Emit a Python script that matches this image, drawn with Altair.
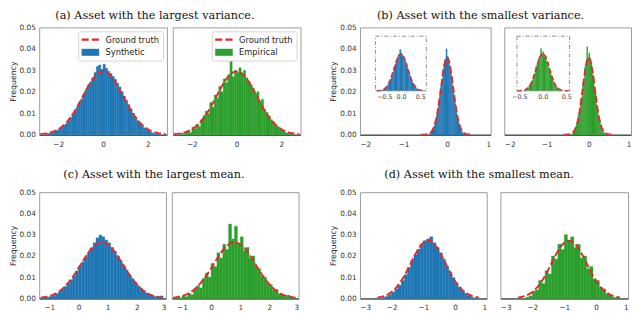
import altair as alt
import pandas as pd

RED = "#e02a2e"
BLUE = "#1f77b4"
GREEN = "#2ca02c"

# ---------------- data ----------------
# (a) largest variance: bins of width 0.1 starting at -2.5
a_start, a_width = -2.5, 0.1
a_synth = [0.0005, 0.0008, 0.0010, 0.0014, 0.0020, 0.0026, 0.0033, 0.0042, 0.0050, 0.0062,
           0.0078, 0.0096, 0.0108, 0.0128, 0.0150, 0.0166, 0.0190, 0.0212, 0.0230, 0.0246,
           0.0265, 0.0290, 0.0318, 0.0325, 0.0305, 0.0328, 0.0310, 0.0296, 0.0285, 0.0272,
           0.0258, 0.0240, 0.0222, 0.0200, 0.0180, 0.0160, 0.0140, 0.0120, 0.0100, 0.0082,
           0.0066, 0.0052, 0.0042, 0.0032, 0.0024, 0.0017, 0.0011, 0.0007, 0.0004, 0.0002]
a_emp = [0.0008, 0.0004, 0.0012, 0.0018, 0.0010, 0.0035, 0.0028, 0.0050, 0.0038, 0.0070,
         0.0090, 0.0110, 0.0098, 0.0150, 0.0128, 0.0185, 0.0170, 0.0225, 0.0200, 0.0260,
         0.0242, 0.0280, 0.0350, 0.0270, 0.0300, 0.0290, 0.0312, 0.0285, 0.0300, 0.0265,
         0.0250, 0.0232, 0.0215, 0.0190, 0.0200, 0.0155, 0.0165, 0.0118, 0.0105, 0.0088,
         0.0070, 0.0060, 0.0042, 0.0038, 0.0022, 0.0018, 0.0012, 0.0008, 0.0003, 0.0002]
a_curve_x = [-2.8, -2.6, -2.4, -2.2, -2.0, -1.8, -1.6, -1.4, -1.2, -1.0, -0.8, -0.6, -0.4, -0.2, 0.0,
             0.2, 0.4, 0.6, 0.8, 1.0, 1.2, 1.4, 1.6, 1.8, 2.0, 2.2, 2.4, 2.6, 2.8]
a_curve_y = [0.0002, 0.0005, 0.0008, 0.0015, 0.0025, 0.0040, 0.0061, 0.0088, 0.0121, 0.0159,
             0.0199, 0.0236, 0.0267, 0.0288, 0.0295, 0.0288, 0.0267, 0.0236, 0.0199, 0.0159,
             0.0121, 0.0088, 0.0061, 0.0040, 0.0025, 0.0015, 0.0008, 0.0005, 0.0002]

# (b) smallest variance: bins of width 0.025 starting at -0.4
b_start, b_width = -0.4, 0.025
b_synth = [0.0005, 0.0010, 0.0018, 0.0028, 0.0042, 0.0060, 0.0088, 0.0112, 0.0150, 0.0180,
           0.0225, 0.0258, 0.0300, 0.0330, 0.0352, 0.0400, 0.0365, 0.0345, 0.0322, 0.0292,
           0.0262, 0.0220, 0.0186, 0.0145, 0.0115, 0.0082, 0.0060, 0.0042, 0.0028, 0.0017,
           0.0009, 0.0004]
b_emp = [0.0003, 0.0008, 0.0020, 0.0025, 0.0048, 0.0058, 0.0095, 0.0105, 0.0160, 0.0175,
         0.0238, 0.0250, 0.0315, 0.0330, 0.0410, 0.0360, 0.0380, 0.0330, 0.0335, 0.0280,
         0.0275, 0.0210, 0.0195, 0.0140, 0.0118, 0.0078, 0.0065, 0.0038, 0.0030, 0.0015,
         0.0010, 0.0003]
b_curve_x = [-0.6, -0.55, -0.5, -0.45, -0.4, -0.35, -0.3, -0.25, -0.2, -0.15, -0.1, -0.05, 0.0,
             0.05, 0.1, 0.15, 0.2, 0.25, 0.3, 0.35, 0.4, 0.45, 0.5, 0.55, 0.6]
b_curve_y = [0.0, 0.0, 0.0001, 0.0002, 0.0006, 0.0016, 0.0036, 0.0073, 0.0130, 0.0203, 0.0279,
             0.0338, 0.0360, 0.0338, 0.0279, 0.0203, 0.0130, 0.0073, 0.0036, 0.0016, 0.0006,
             0.0002, 0.0001, 0.0, 0.0]
b1_inset_x = [-0.52, 0.52]
b2_inset_x = [-0.55, 0.57]
inset_y = [0.0, 0.053]
inset_ticks = [-0.5, 0.0, 0.5]

# (c) largest mean: bins of width 0.1 starting at -1.3
c_start, c_width = -1.3, 0.1
c_synth = [0.0000, 0.0002, 0.0006, 0.0010, 0.0014, 0.0022, 0.0030, 0.0042, 0.0056, 0.0070,
           0.0088, 0.0105, 0.0130, 0.0150, 0.0172, 0.0195, 0.0215, 0.0238, 0.0262, 0.0285,
           0.0298, 0.0290, 0.0275, 0.0262, 0.0240, 0.0222, 0.0200, 0.0178, 0.0156, 0.0134,
           0.0112, 0.0094, 0.0076, 0.0060, 0.0046, 0.0036, 0.0026, 0.0019, 0.0013, 0.0009,
           0.0006, 0.0012]
c_emp = [0.0000, 0.0004, 0.0003, 0.0012, 0.0008, 0.0025, 0.0018, 0.0045, 0.0060, 0.0050,
         0.0095, 0.0120, 0.0100, 0.0165, 0.0150, 0.0215, 0.0190, 0.0255, 0.0230, 0.0350,
         0.0280, 0.0340, 0.0260, 0.0290, 0.0225, 0.0240, 0.0190, 0.0200, 0.0150, 0.0140,
         0.0105, 0.0100, 0.0070, 0.0065, 0.0040, 0.0042, 0.0022, 0.0018, 0.0010, 0.0016,
         0.0004, 0.0000]
c_curve_x = [-1.3, -1.1, -0.9, -0.7, -0.5, -0.3, -0.1, 0.1, 0.3, 0.5, 0.7, 0.8, 0.9, 1.1, 1.3,
             1.5, 1.7, 1.9, 2.1, 2.3, 2.5, 2.7, 2.9]
c_curve_y = [0.0004, 0.0008, 0.0016, 0.0030, 0.0052, 0.0083, 0.0121, 0.0165, 0.0208, 0.0243,
             0.0262, 0.0265, 0.0262, 0.0243, 0.0208, 0.0165, 0.0121, 0.0083, 0.0052, 0.0030,
             0.0016, 0.0008, 0.0004]

# (d) smallest mean: bins of width 0.1 starting at -2.3
d_start, d_width = -2.3, 0.1
d_synth = [0.0005, 0.0010, 0.0018, 0.0030, 0.0045, 0.0062, 0.0085, 0.0112, 0.0145, 0.0178,
           0.0205, 0.0232, 0.0255, 0.0272, 0.0280, 0.0290, 0.0262, 0.0240, 0.0215, 0.0185,
           0.0152, 0.0125, 0.0098, 0.0072, 0.0052, 0.0036, 0.0024, 0.0012, 0.0005, 0.0000]
d_emp = [0.0000, 0.0006, 0.0012, 0.0035, 0.0040, 0.0085, 0.0070, 0.0130, 0.0115, 0.0200,
         0.0185, 0.0255, 0.0230, 0.0300, 0.0270, 0.0290, 0.0240, 0.0255, 0.0190, 0.0200,
         0.0140, 0.0150, 0.0090, 0.0085, 0.0050, 0.0045, 0.0022, 0.0015, 0.0006, 0.0002]
d_curve_x = [-2.45, -2.25, -2.05, -1.85, -1.65, -1.45, -1.25, -1.05, -0.85, -0.65, -0.45, -0.25,
             -0.05, 0.15, 0.35, 0.55, 0.75]
d_curve_y = [0.0004, 0.0011, 0.0025, 0.0052, 0.0094, 0.0150, 0.0209, 0.0255, 0.0272, 0.0255,
             0.0209, 0.0150, 0.0094, 0.0052, 0.0025, 0.0011, 0.0004]

y_ticks = [0.0, 0.01, 0.02, 0.03, 0.04, 0.05]

titles = ["(a) Asset with the largest variance.", "(b) Asset with the smallest variance.",
          "(c) Asset with the largest mean.", "(d) Asset with the smallest mean."]

# legend glyphs: two red dashes for the ground truth, a flat patch for the histogram
GT_GLYPH = "M-2,-0.23H-0.38V0.23H-2Z M0.32,-0.23H1.94V0.23H0.32Z"
PATCH_GLYPH = "M-2,-0.8H2V0.8H-2Z"


# ---------------- helpers ----------------
def hist_df(start, width, heights):
    n = len(heights)
    return pd.DataFrame({
        "x0": [start + i * width for i in range(n)],
        "x1": [start + (i + 1) * width for i in range(n)],
        "h": heights,
    })


def curve_df(xs, ys):
    return pd.DataFrame({"cx": xs, "cy": ys})


def panel(bins, curve, color, xdomain, xticks, width, height, show_y,
          legend_label=None, inset=None, lab_pad=6):
    xsc = alt.Scale(domain=xdomain, nice=False, zero=False)
    ysc = alt.Scale(domain=[0, 0.05], nice=False, zero=True)
    xaxis = alt.Axis(orient="bottom", values=xticks, format="d", title=None,
                     labelPadding=lab_pad, ticks=False, domain=True, domainColor="#222",
                     domainWidth=1, grid=False)
    if show_y:
        yaxis = alt.Axis(values=y_ticks, format=".2f", title="Frequency",
                         titleFont="DejaVu Sans", titleFontSize=8, titleFontWeight="normal",
                         titleColor="#222", titlePadding=2, labelPadding=4,
                         ticks=False, domain=False, grid=False)
    else:
        yaxis = None

    bars = alt.Chart(bins).mark_bar(stroke=color, strokeWidth=0.4, opacity=1,
                                    color=color).encode(
        x=alt.X("x0:Q", scale=xsc, axis=xaxis),
        x2="x1:Q",
        y=alt.Y("h:Q", scale=ysc, axis=yaxis),
        y2=alt.datum(0),
    )
    line = alt.Chart(curve).mark_line(
        strokeDash=[7, 3], strokeWidth=2, interpolate="monotone", clip=True, color=RED
    ).encode(
        x=alt.X("cx:Q", scale=xsc, axis=xaxis),
        y=alt.Y("cy:Q", scale=ysc, axis=yaxis),
    )
    layers = [bars, line]
    if legend_label is not None:
        entries = pd.DataFrame({"series": ["Ground truth", legend_label]})
        leg = alt.Legend(title=None, orient="top-right", offset=4, padding=4,
                         strokeColor="#d4d4d4", fillColor="white", cornerRadius=2,
                         labelFont="DejaVu Sans", labelFontSize=8.5, labelColor="#222",
                         labelOffset=11, rowPadding=4, symbolSize=81, symbolOffset=4,
                         symbolStrokeWidth=0, symbolOpacity=1)
        key = alt.Chart(entries).mark_point(filled=True, opacity=0).encode(
            x=alt.value(0), y=alt.value(0),
            color=alt.Color("series:N", sort=None,
                            scale=alt.Scale(domain=["Ground truth", legend_label],
                                            range=[RED, color]), legend=leg),
            shape=alt.Shape("series:N", sort=None,
                            scale=alt.Scale(domain=["Ground truth", legend_label],
                                            range=[GT_GLYPH, PATCH_GLYPH]), legend=leg),
        )
        layers.append(key)
    main = alt.layer(*layers)
    if inset is None:
        return main.properties(width=width, height=height)

    ixdom, ipx = inset
    ixsc = alt.Scale(domain=ixdom, range=[ipx[0], ipx[1]], nice=False, zero=False)
    iysc = alt.Scale(domain=inset_y, range=[ipx[3], ipx[2]], nice=False, zero=True)
    iaxis = alt.Axis(orient="bottom", offset=-(height - ipx[3]), values=inset_ticks,
                     format=".1f", title=None, labelFontSize=6.5, labelPadding=3,
                     ticks=False, domain=False, grid=False)
    ibars = alt.Chart(bins).mark_bar(stroke=color, strokeWidth=0.3, color=color).encode(
        x=alt.X("x0:Q", scale=ixsc, axis=iaxis),
        x2="x1:Q",
        y=alt.Y("h:Q", scale=iysc, axis=None),
        y2=alt.datum(0),
    )
    icurve = alt.Chart(curve).transform_filter(
        (alt.datum.cx >= ixdom[0]) & (alt.datum.cx <= ixdom[1])
    ).mark_line(strokeDash=[5, 2.5], strokeWidth=1.6, interpolate="monotone",
                color=RED).encode(
        x=alt.X("cx:Q", scale=ixsc, axis=iaxis),
        y=alt.Y("cy:Q", scale=iysc, axis=None),
    )
    box = pd.DataFrame({"bx0": [ixdom[0]], "bx1": [ixdom[1]],
                        "by0": [inset_y[0]], "by1": [inset_y[1]]})
    ibox = alt.Chart(box).mark_rect(fillOpacity=0, stroke="#8a8a8a", strokeWidth=1,
                                    strokeDash=[4, 2, 1, 2]).encode(
        x=alt.X("bx0:Q", scale=ixsc, axis=iaxis),
        x2="bx1:Q",
        y=alt.Y("by0:Q", scale=iysc, axis=None),
        y2="by1:Q",
    )
    ins = alt.layer(ibars, icurve, ibox)
    return alt.layer(main, ins).resolve_scale(
        x="independent", y="independent").resolve_axis(
        x="independent", y="independent").properties(width=width, height=height)


def group(left, right, title, spacing, offset):
    t = alt.TitleParams(title, font="DejaVu Serif", fontSize=11.5, fontWeight="normal",
                        color="#111", anchor="middle", frame="bounds", offset=offset)
    return alt.hconcat(left, right, spacing=spacing, bounds="flush", title=t).resolve_scale(
        color="independent", shape="independent").resolve_legend(
        color="independent", shape="independent")


H1, H2 = 110, 109

a1 = panel(hist_df(a_start, a_width, a_synth), curve_df(a_curve_x, a_curve_y),
           BLUE, [-2.85, 2.85], [-2, 0, 2], 131, H1, True, legend_label="Synthetic")
a2 = panel(hist_df(a_start, a_width, a_emp), curve_df(a_curve_x, a_curve_y),
           GREEN, [-2.85, 2.85], [-2, 0, 2], 131, H1, False, legend_label="Empirical")
b1 = panel(hist_df(b_start, b_width, b_synth), curve_df(b_curve_x, b_curve_y),
           BLUE, [-2, 1], [-2, -1, 0, 1], 134, H1, True,
           inset=(b1_inset_x, [16, 68, 9, 65]))
b2 = panel(hist_df(b_start, b_width, b_emp), curve_df(b_curve_x, b_curve_y),
           GREEN, [-2, 1], [-2, -1, 0, 1], 130, H1, False,
           inset=(b2_inset_x, [13, 67, 9, 65]))
c1 = panel(hist_df(c_start, c_width, c_synth), curve_df(c_curve_x, c_curve_y),
           BLUE, [-1.35, 3.0], [-1, 0, 1, 2, 3], 130, H2, True, lab_pad=5)
c2 = panel(hist_df(c_start, c_width, c_emp), curve_df(c_curve_x, c_curve_y),
           GREEN, [-1.35, 3.0], [-1, 0, 1, 2, 3], 130, H2, False, lab_pad=5)
d1 = panel(hist_df(d_start, d_width, d_synth), curve_df(d_curve_x, d_curve_y),
           BLUE, [-3, 1], [-3, -2, -1, 0, 1], 130, H2, True, lab_pad=5)
d2 = panel(hist_df(d_start, d_width, d_emp), curve_df(d_curve_x, d_curve_y),
           GREEN, [-3, 1], [-3, -2, -1, 0, 1], 131, H2, False, lab_pad=5)

top = alt.hconcat(group(a1, a2, titles[0], 6, 2), group(b1, b2, titles[1], 14, 2),
                  spacing=28).resolve_scale(color="independent", shape="independent")
bottom = alt.hconcat(group(c1, c2, titles[2], 6, 8), group(d1, d2, titles[3], 14, 8),
                     spacing=30).resolve_scale(color="independent", shape="independent")

chart = alt.vconcat(top, bottom, spacing=21).resolve_scale(
    color="independent", shape="independent").properties(
    padding={"left": 0, "top": -2, "right": 0, "bottom": 0},
    background="white",
).configure_view(
    stroke="#9a9a9a", strokeWidth=1
).configure_axis(
    labelFont="DejaVu Sans", labelFontSize=7.5, labelColor="#333", grid=False, ticks=False
)

chart.save("out.html", embed_options={"renderer": "svg", "actions": False})
